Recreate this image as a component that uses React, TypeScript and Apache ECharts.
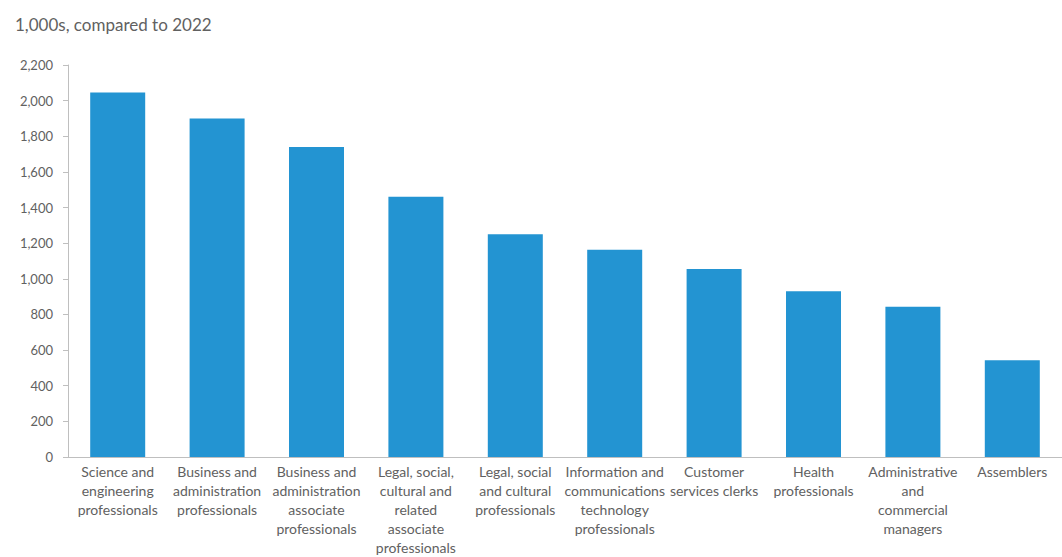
import React, { useEffect, useRef } from "react";
import * as echarts from "echarts";

const categories = [
  "Science and\nengineering\nprofessionals",
  "Business and\nadministration\nprofessionals",
  "Business and\nadministration\nassociate\nprofessionals",
  "Legal, social,\ncultural and\nrelated\nassociate\nprofessionals",
  "Legal, social\nand cultural\nprofessionals",
  "Information and\ncommunications\ntechnology\nprofessionals",
  "Customer\nservices clerks",
  "Health\nprofessionals",
  "Administrative\nand\ncommercial\nmanagers",
  "Assemblers",
];

const values = [2045, 1900, 1740, 1460, 1250, 1163, 1055, 930, 843, 543];

const titleText = "1,000s, compared to 2022";

const FONT = "Lato, 'Open Sans', sans-serif";
const TEXT_COLOR = "#616161";
const AXIS_COLOR = "#bfbfbf";
const BAR_COLOR = "#2394d2";

export default function App() {
  const ref = useRef<HTMLDivElement>(null);

  useEffect(() => {
    if (!ref.current) return;
    const chart = echarts.init(ref.current, null, { renderer: "svg" });
    chart.setOption({
      animation: false,
      backgroundColor: "#ffffff",
      title: {
        text: titleText,
        left: 10,
        top: 11,
        textStyle: {
          fontFamily: FONT,
          fontSize: 17,
          fontWeight: "normal",
          color: TEXT_COLOR,
        },
      },
      grid: {
        left: 68,
        right: -14,
        top: 65,
        bottom: 97,
        containLabel: false,
      },
      xAxis: {
        type: "category",
        data: categories,
        axisLine: { show: true, lineStyle: { color: AXIS_COLOR, width: 1 } },
        axisTick: { show: false },
        axisLabel: {
          interval: 0,
          margin: 5,
          fontFamily: FONT,
          fontSize: 14,
          lineHeight: 19,
          color: TEXT_COLOR,
          align: "center",
        },
        splitLine: { show: false },
      },
      yAxis: {
        type: "value",
        min: 0,
        max: 2200,
        interval: 200,
        axisLine: { show: true, lineStyle: { color: AXIS_COLOR, width: 1 } },
        axisTick: { show: true, inside: false, length: 5, lineStyle: { color: AXIS_COLOR } },
        splitLine: { show: false },
        axisLabel: {
          margin: 15,
          fontFamily: FONT,
          fontSize: 13,
          color: TEXT_COLOR,
          formatter: (v: number) => v.toLocaleString("en-US"),
        },
      },
      series: [
        {
          type: "bar",
          data: values,
          barWidth: 55,
          itemStyle: { color: BAR_COLOR },
        },
      ],
    });
    return () => chart.dispose();
  }, []);

  return (
    <div
      ref={ref}
      style={{ position: "fixed", left: 0, top: 0, width: 1062, height: 557 }}
    />
  );
}
